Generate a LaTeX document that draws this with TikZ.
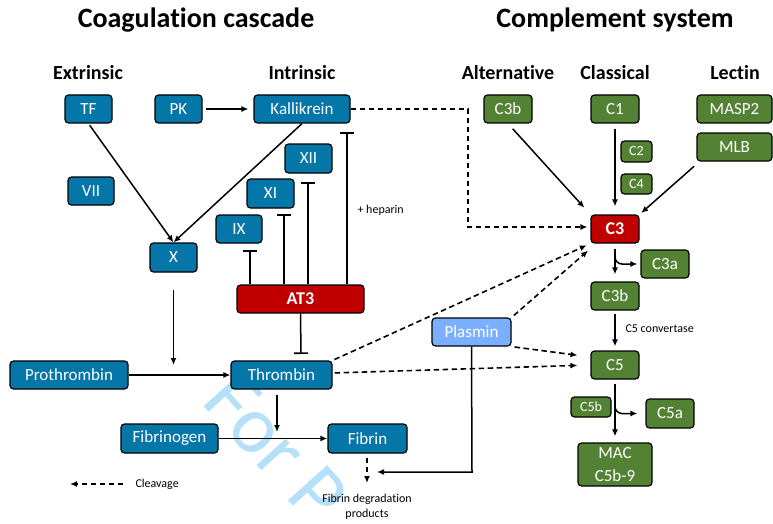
\documentclass[tikz,border=0pt]{standalone}
\usepackage{fontspec}
\setmainfont{Carlito}[Ligatures=NoCommon]
\usetikzlibrary{arrows.meta}
\definecolor{cblue}{RGB}{5,118,168}
\definecolor{cgreen}{RGB}{84,130,53}
\definecolor{cred}{RGB}{192,0,0}
\definecolor{cplas}{RGB}{122,176,255}
\definecolor{wm}{RGB}{180,224,250}
\begin{document}
\begin{tikzpicture}[x=1pt,y=-1pt,
  box/.style={draw=black, line width=1.2pt, rounded corners=3.5pt, text=white, inner sep=0pt, font=\fontsize{17}{20}\selectfont},
  bbox/.style={box, fill=cblue},
  gbox/.style={box, fill=cgreen},
  rbox/.style={box, fill=cred, font=\fontsize{18}{21}\selectfont\bfseries},
  pbox/.style={box, fill=cplas},
  smallg/.style={gbox, font=\fontsize{14}{16}\selectfont},
  sz/.style 2 args={minimum width=#1pt, minimum height=#2pt},
  arr/.style={line width=1.5pt, -{Latex[length=7pt,width=6pt]}},
  inhib/.style={line width=1.5pt, -{Bar[width=14pt,line width=1.6pt]}},
  cleave/.style={line width=1.6pt, dash pattern=on 5.5pt off 3.5pt, -{Latex[length=7pt,width=6pt]}},
  title/.style={font=\fontsize{28}{30}\selectfont\bfseries},
  subtitle/.style={font=\fontsize{20}{22}\selectfont\bfseries},
  note/.style={font=\fontsize{12}{15}\selectfont}
]
\fill[white] (0,0) rectangle (773,524);
\useasboundingbox (0,0) rectangle (773,524);

% watermark
\node[rotate=-48, text=wm, font=\fontsize{82}{82}\selectfont] (wmark) at (276,448) {For P};

% titles
\node[title] (t1) at (196,20) {Coagulation cascade};
\node[title] (t2) at (615,20) {Complement system};
\node[subtitle] (s1) at (88,73) {Extrinsic};
\node[subtitle] (s2) at (302,73) {Intrinsic};
\node[subtitle] (s3) at (508,73) {Alternative};
\node[subtitle] (s4) at (615,73) {Classical};
\node[subtitle] (s5) at (735,73) {Lectin};

% coagulation nodes
\node[bbox, sz={47}{28}] (TF) at (88.5,109) {TF};
\node[bbox, sz={47}{28}] (PK) at (178.5,109) {PK};
\node[bbox, sz={96}{28}] (Kal) at (302,109) {Kallikrein};
\node[bbox, sz={46}{28}] (VII) at (91,191) {VII};
\node[bbox, sz={47}{29}] (XII) at (308.5,158.5) {XII};
\node[bbox, sz={47}{29}] (XI) at (270.5,193.5) {XI};
\node[bbox, sz={46}{28}] (IX) at (239,229) {IX};
\node[bbox, sz={47}{29}] (X) at (173.5,257.5) {X};
\node[rbox, sz={127}{28}] (AT3) at (300.5,299) {AT3};
\node[bbox, sz={118}{28}] (Pro) at (69,375) {Prothrombin};
\node[bbox, sz={101}{28}] (Thr) at (281.5,375) {Thrombin};
\node[bbox, sz={97}{29}] (Fbg) at (169.5,438.5) {Fibrinogen};
\node[bbox, sz={79}{29}] (Fbn) at (367.5,438.5) {Fibrin};
\node[pbox, sz={79}{28}] (Pla) at (471.5,332) {Plasmin};

% complement nodes
\node[gbox, sz={48}{28}] (C3bt) at (508,109) {C3b};
\node[gbox, sz={48}{28}] (C1) at (615,109) {C1};
\node[gbox, sz={75}{28}] (MASP) at (734.5,109) {MASP2};
\node[gbox, sz={75}{28}] (MLB) at (734.5,147) {MLB};
\node[smallg, sz={31}{21}] (C2) at (636.5,151.5) {C2};
\node[smallg, sz={31}{20}] (C4) at (636.5,184) {C4};
\node[rbox, sz={48}{28}] (C3) at (615,229) {C3};
\node[gbox, sz={48}{28}] (C3a) at (665,264) {C3a};
\node[gbox, sz={48}{28}] (C3b) at (615,296) {C3b};
\node[gbox, sz={48}{28}] (C5) at (615,365) {C5};
\node[smallg, sz={40}{20}] (C5b) at (591,407) {C5b};
\node[gbox, sz={48}{29}] (C5a) at (670,413.5) {C5a};
\node[gbox, sz={74}{43}, align=center, font=\fontsize{17}{23}\selectfont] (MAC) at (615,464.5) {MAC\\C5b-9};

% labels
\node[note, anchor=west] (hep) at (354,210) {+ heparin};
\node[note, anchor=west] (conv) at (622,329) {C5 convertase};
\node[note, anchor=west] (clv) at (132,484) {Cleavage};
\node[note, align=center] (fdp) at (367,507) {Fibrin degradation\\products};

% helper coordinates
\coordinate (kb) at (468,109);
\coordinate (iIX) at (250,250);
\coordinate (iXI) at (284,214);
\coordinate (iXII) at (308,182);
\coordinate (iKal) at (347,132);
\coordinate (iThr) at (301,354);
\coordinate (xe) at (173.5,365);
\coordinate (te) at (277,432);
\coordinate (fe) at (367,483);
\coordinate (pc) at (472,472);
\coordinate (pe) at (377,472);
\coordinate (c3br) at (615,252);
\coordinate (c5br) at (615,398);
\coordinate (lg1) at (123,484);
\coordinate (lg2) at (70,484);

% coagulation connectors
\draw[arr, shorten <=3pt, shorten >=5pt] (PK.east) -- (Kal.west);
\draw[arr, shorten <=2pt] (TF.south) -- (X.north);
\draw[arr] (Kal.south) -- (X.north);
\draw[cleave] (Kal.east) -- (kb) |- ([yshift=2pt, xshift=-3pt]C3.west);
\draw[inhib] (AT3.north -| iIX) -- (iIX);
\draw[inhib] (AT3.north -| iXI) -- (iXI);
\draw[inhib] (AT3.north -| iXII) -- (iXII);
\draw[inhib] (AT3.north -| iKal) -- (iKal);
\draw[inhib] (AT3.south) -- (iThr);
\draw[arr, shorten <=17pt] (X.south) -- (xe);
\draw[arr] (Pro.east) -- (Thr.west);
\draw[arr, shorten <=5pt] (Thr.south -| te) -- (te);
\draw[arr] (Fbg.east) -- (Fbn.west);
\draw[cleave, shorten <=4pt] (Fbn.south -| fe) -- (fe);
\draw[line width=1.5pt, -{Latex[length=7pt,width=6pt]}] (Pla.south) -- (pc) -- (pe);
\draw[cleave] (lg1) -- (lg2);

% cross-system dashed
\draw[cleave, shorten <=2pt, shorten >=4pt] (Thr.north east) -- (C3.south west);
\draw[cleave, shorten <=2pt, shorten >=13pt] ([yshift=2pt]Thr.east) -- (C5.west);
\draw[cleave, shorten <=3pt, shorten >=3pt] (Pla.north east) -- ([yshift=-5pt]C3.south west);
\draw[cleave, shorten <=3pt, shorten >=13pt] (Pla.south east) -- ([yshift=8pt]C5.west);

% complement connectors
\draw[arr, shorten <=7pt, shorten >=9pt] (C3bt.south) -- (C3.north west);
\draw[arr, shorten <=5pt, shorten >=8pt] (C1.south) -- (C3.north);
\draw[arr, shorten <=7pt, shorten >=2pt] ([xshift=3pt]MLB.south west) -- (C3.north east);
\draw[arr, shorten <=5pt, shorten >=7pt] (C3.south) -- (C3b.north);
\draw[arr, rounded corners=7pt, shorten >=3pt] (c3br) |- (C3a.west);
\draw[arr, shorten <=3pt, shorten >=4pt] (C3b.south) -- (C5.north);
\draw[arr, shorten <=4pt, shorten >=6pt] (C5.south) -- (MAC.north);
\draw[arr, rounded corners=7pt, shorten >=8pt] (c5br) |- (C5a.west);
\end{tikzpicture}
\end{document}
